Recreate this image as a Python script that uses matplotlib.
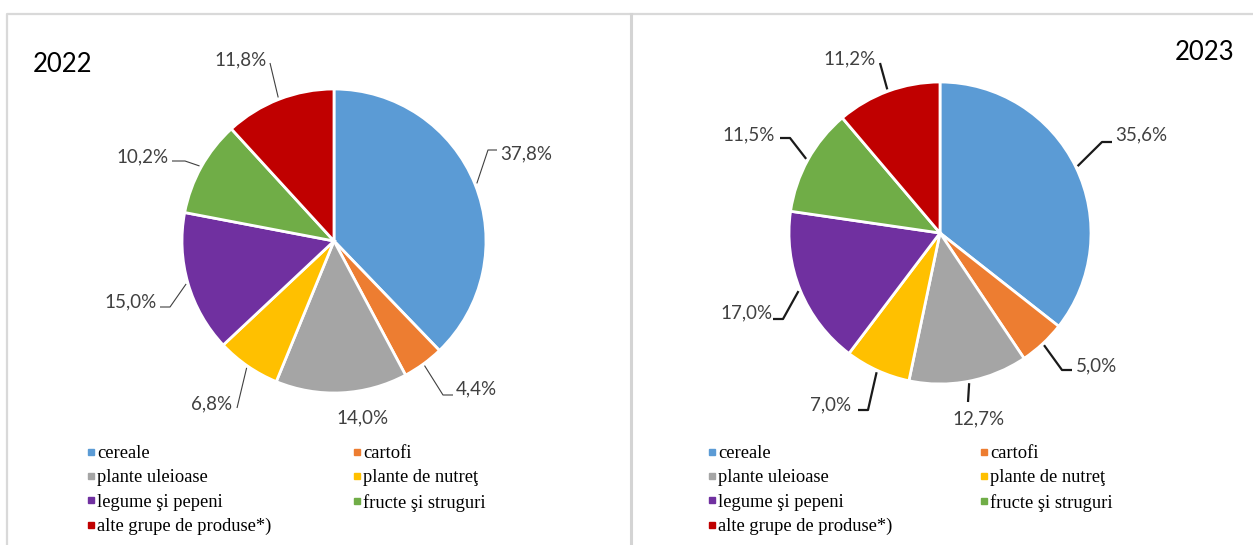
import matplotlib.pyplot as plt
from matplotlib.lines import Line2D
import numpy as np

# Data
categories = ['cereale', 'cartofi', 'plante uleioase', 'plante de nutreţ',
              'legume şi pepeni', 'fructe şi struguri', 'alte grupe de produse*)']
share_2022 = [37.8, 4.4, 14.0, 6.8, 15.0, 10.2, 11.8]
share_2023 = [35.6, 5.0, 12.7, 7.0, 17.0, 11.5, 11.2]
years = ['2022', '2023']
colors = ['#5B9BD5', '#ED7D31', '#A5A5A5', '#FFC000', '#7030A0', '#70AD47', '#C00000']

W, H = 1253, 545
fig = plt.figure(figsize=(W / 100, H / 100), dpi=100)
ax = fig.add_axes([0, 0, 1, 1])


def px(x, y):
    # image pixel (y down) -> data coords (y up)
    return x, H - y


# layout of each panel (pixel positions in the picture)
panels = [
    dict(values=share_2022, center=(334, 241), radius=152, title_xy=(62, 65),
         leader_lw=0.8, leader_color='#404040', legend_xy=(87, 445), colspace=4.4,
         labels=[((526, 154), [(497, 150), (488, 150)]),
                 ((476, 389), [(453, 395), (443, 395)]),
                 ((362, 418), None),
                 ((212, 404), [(237, 408)]),
                 ((131, 302), [(160, 307), (170, 307)]),
                 ((142, 157), [(172, 161), (185, 161)]),
                 ((241, 60), [(270, 63)])]),
    dict(values=share_2023, center=(940, 233), radius=151, title_xy=(1205, 53),
         leader_lw=1.6, leader_color='#1a1a1a', legend_xy=(708, 445), colspace=4.75,
         labels=[((1141, 135), [(1112, 142), (1102, 142)]),
                 ((1097, 366), [(1072, 370), (1062, 370)]),
                 ((978, 419), [(968, 402)]),
                 ((831, 405), [(858, 410), (868, 410)]),
                 ((746, 313), [(773, 319), (783, 319)]),
                 ((749, 135), [(780, 138), (790, 138)]),
                 ((850, 59), [(880, 63)])]),
]

label_font = ['Lato', 'DejaVu Sans']
order = [0, 2, 4, 6, 1, 3, 5]  # row-wise legend order for ncol=2

for year, p in zip(years, panels):
    cx, cy = px(*p['center'])
    r = p['radius']
    wedges, _ = ax.pie(p['values'], colors=colors, startangle=90, counterclock=False,
                       center=(cx, cy), radius=r,
                       wedgeprops=dict(edgecolor='white', linewidth=2))
    for w, v, (txy, leader) in zip(wedges, p['values'], p['labels']):
        ax.text(*px(*txy), f'{v:.1f}%'.replace('.', ','), ha='center', va='center',
                fontsize=13.5, family=label_font, color='#404040')
        if leader:
            mid = np.deg2rad((w.theta1 + w.theta2) / 2)
            ex, ey = cx + (r + 2) * np.cos(mid), cy + (r + 2) * np.sin(mid)
            pts = [px(*q) for q in leader] + [(ex, ey)]
            ax.plot([q[0] for q in pts], [q[1] for q in pts],
                    color=p['leader_color'], lw=p['leader_lw'], solid_capstyle='butt')
    ax.text(*px(*p['title_xy']), year, ha='center', va='center', fontsize=18.5,
            family=label_font, color='black')

    handles = [Line2D([], [], marker='s', ls='', color=colors[i], markersize=4)
               for i in order]
    fig.legend(handles=handles, labels=[categories[i] for i in order],
               loc='upper left', bbox_to_anchor=(p['legend_xy'][0] / W, 1 - p['legend_xy'][1] / H),
               ncol=2, frameon=False, prop=dict(family='Liberation Serif', size=13.3),
               handlelength=0.4, handletextpad=0.15, columnspacing=p['colspace'],
               labelspacing=0.4, borderpad=0, borderaxespad=0)

# panel borders
border = '#d9d9d9'
ax.plot(*zip(px(7, H + 5), px(7, 14), px(W + 5, 14)), color=border, lw=1.6)
ax.plot(*zip(px(631, 14), px(631, H + 5)), color='#d4d4d4', lw=2.2)

ax.set_xlim(0, W)
ax.set_ylim(0, H)
ax.set_aspect('auto')
ax.axis('off')

fig.savefig('out.png', dpi=100, facecolor='white')
